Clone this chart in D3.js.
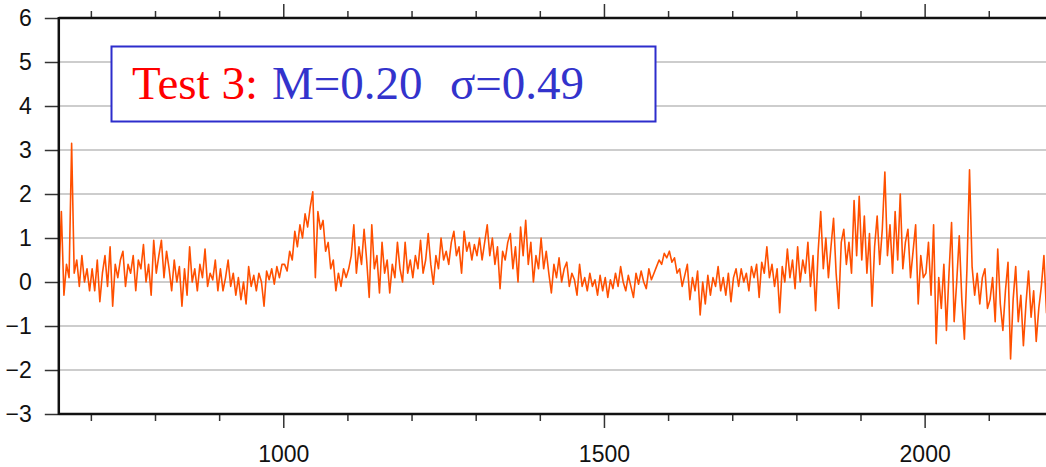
<!DOCTYPE html>
<html>
<head>
<meta charset="utf-8">
<script src="https://cdn.jsdelivr.net/npm/d3@7"></script>
<style>
  body { margin: 0; background: #fff; }
  svg { display: block; }
</style>
</head>
<body>
<svg id="chart" width="1046" height="467"></svg>
<script>
const xStart = 650
const xStep = 4
const values = [
  0.0,1.6,-0.3,0.4,0.1,3.15,0.2,0.5,-0.1,0.6,0.0,0.3,-0.2,
  0.3,-0.2,0.5,-0.45,0.2,0.6,-0.1,0.8,-0.55,0.4,0.1,0.5,0.7,-0.1,0.4,0.2,0.6,-0.2,0.5,0.3,0.85,0.0,0.4,-0.3,0.95,
  0.2,0.6,0.95,0.1,0.7,0.3,-0.2,0.5,0.0,0.35,-0.55,0.3,-0.3,0.8,0.0,0.3,-0.2,0.4,0.1,0.75,-0.1,0.2,0.05,0.5,-0.2,
  0.3,-0.2,0.1,0.5,-0.1,0.2,-0.3,0.1,-0.4,0.0,-0.5,0.35,-0.1,0.15,-0.2,0.2,0.0,-0.55,0.25,0.05,0.3,-0.05,0.35,0.1,0.4,
  0.4,0.25,0.7,0.5,1.15,0.8,1.3,1.0,1.55,1.25,1.7,2.05,0.1,1.6,1.2,1.4,0.7,0.9,0.3,0.5,-0.2,0.2,-0.1,0.3,0.1,
  0.3,0.6,1.3,0.2,0.8,0.4,1.2,0.5,-0.35,1.3,0.3,0.6,-0.25,0.9,0.2,0.5,-0.25,0.4,0.1,0.9,0.3,0.0,0.9,0.2,0.5,
  0.1,0.6,0.3,0.95,0.2,0.5,1.1,0.4,-0.05,0.6,0.3,1.0,0.5,0.7,0.4,0.9,1.15,0.6,0.8,0.2,1.15,0.7,0.9,0.5,0.85,
  0.6,1.0,0.5,0.9,1.3,0.6,1.0,0.4,0.8,-0.15,0.7,0.5,0.9,1.1,0.3,0.8,0.0,1.25,0.6,1.4,0.4,0.9,0.0,0.6,0.3,
  1.0,0.3,0.7,0.2,-0.25,0.4,0.1,0.55,0.0,0.3,0.45,-0.1,0.2,0.05,-0.3,0.4,-0.1,0.1,-0.2,0.2,-0.1,0.05,-0.3,0.15,-0.2,
  0.1,-0.35,0.05,-0.15,0.2,-0.1,0.35,0.0,-0.2,0.15,-0.1,-0.35,0.2,-0.05,0.25,0.0,-0.15,0.3,0.05,0.2,0.35,0.5,0.4,0.65,0.55,
  0.7,0.45,0.55,0.2,0.3,-0.1,0.15,0.4,-0.4,0.1,-0.2,0.25,-0.75,0.0,-0.5,0.15,-0.3,0.1,-0.1,0.35,-0.2,0.1,-0.3,0.2,-0.45,
  0.1,0.3,-0.1,0.3,0.0,0.2,-0.2,0.35,0.1,0.4,-0.35,0.45,0.2,0.8,0.1,0.4,-0.1,0.3,-0.7,0.35,0.0,0.75,0.1,0.5,-0.15,
  0.8,0.0,0.5,0.2,0.9,-0.1,0.6,-0.65,0.7,1.6,0.3,1.0,0.1,0.8,1.45,0.2,-0.6,0.9,1.2,0.4,0.9,0.2,1.85,0.6,1.95,
  0.5,1.5,0.2,1.1,-0.55,0.8,1.5,0.4,1.2,2.5,0.6,1.3,0.2,1.6,0.5,2.0,0.3,0.9,1.2,0.1,0.7,1.3,-0.5,0.6,0.1,
  0.2,0.9,-0.3,1.3,-1.4,0.1,-0.6,0.4,-1.1,0.2,1.35,-0.9,0.0,1.05,-0.4,-1.3,0.3,2.55,0.35,-0.3,0.2,-0.5,0.1,0.3,-0.6,
  -0.4,0.1,-0.9,0.75,-0.5,-1.1,-0.2,0.45,-1.75,-0.4,0.35,-0.9,-0.3,-1.45,-0.5,0.25,-0.8,-0.2,-1.35,-0.6,-0.1,0.6,-0.7,0.4,-0.5
]

const yTicks = [-3, -2, -1, 0, 1, 2, 3, 4, 5, 6]
const xMajor = [1000, 1500, 2000]
const xMinor = [700, 800, 900, 1100, 1200, 1300, 1400, 1600, 1700, 1800, 1900, 2100]
const legendParts = [
  {text: "Test 3:", color: "#ff0000", x: 132},
  {text: "M=0.20", color: "#3333cc", x: 272},
  {text: "σ=0.49", color: "#3333cc", x: 450}
]

const svg = d3.select("#chart")

const x = d3.scaleLinear().domain([650, 2200]).range([58.8, 1052.9])
const y = d3.scaleLinear().domain([-3, 6]).range([414, 18])

const plotLeft = x(650), plotRight = x(2200), plotTop = y(6), plotBottom = y(-3)

// gridlines
svg.append("g")
  .selectAll("line")
  .data(yTicks.filter(d => d > -3 && d < 6))
  .join("line")
    .attr("x1", plotLeft).attr("x2", plotRight)
    .attr("y1", d => y(d)).attr("y2", d => y(d))
    .attr("stroke", "#bdbdbd")
    .attr("stroke-width", 1.5)

// clip for the series
svg.append("clipPath").attr("id", "plot")
  .append("rect")
    .attr("x", plotLeft).attr("y", plotTop)
    .attr("width", plotRight - plotLeft).attr("height", plotBottom - plotTop)

const line = d3.line()
  .x((d, i) => x(xStart + i * xStep))
  .y(d => y(d))

svg.append("path")
  .datum(values)
  .attr("clip-path", "url(#plot)")
  .attr("fill", "none")
  .attr("stroke", "#ff5000")
  .attr("stroke-width", 1.6)
  .attr("stroke-linejoin", "round")
  .attr("d", line)

// axes (ticks only, frame drawn separately)
const fontAxis = "'Liberation Sans', Arial, Helvetica, sans-serif"

const yAxis = svg.append("g")
  .attr("transform", `translate(${plotLeft},0)`)
  .call(d3.axisLeft(y).tickValues(yTicks).tickSize(14).tickPadding(13).tickFormat(d3.format("d")))
yAxis.select(".domain").remove()
yAxis.selectAll(".tick line").attr("stroke", "#333").attr("stroke-width", 1.5)
yAxis.selectAll(".tick text")
  .attr("font-family", fontAxis)
  .attr("font-size", 23)
  .attr("fill", "#111")

const xAxisMajor = svg.append("g")
  .attr("transform", `translate(0,${plotBottom})`)
  .call(d3.axisBottom(x).tickValues(xMajor).tickSize(14).tickFormat(d3.format("d")))
xAxisMajor.select(".domain").remove()
xAxisMajor.selectAll(".tick line").attr("stroke", "#333").attr("stroke-width", 1.5)
xAxisMajor.selectAll(".tick text")
  .attr("y", 48)
  .attr("dy", null)
  .attr("font-family", fontAxis)
  .attr("font-size", 23)
  .attr("fill", "#111")

const xAxisMinor = svg.append("g")
  .attr("transform", `translate(0,${plotBottom})`)
  .call(d3.axisBottom(x).tickValues(xMinor).tickSize(7).tickFormat(""))
xAxisMinor.select(".domain").remove()
xAxisMinor.selectAll(".tick line").attr("stroke", "#333").attr("stroke-width", 1.5)

const topMajor = svg.append("g")
  .attr("transform", `translate(0,${plotTop})`)
  .call(d3.axisTop(x).tickValues(xMajor).tickSize(14).tickFormat(""))
topMajor.select(".domain").remove()
topMajor.selectAll(".tick line").attr("stroke", "#333").attr("stroke-width", 1.5)

const topMinor = svg.append("g")
  .attr("transform", `translate(0,${plotTop})`)
  .call(d3.axisTop(x).tickValues(xMinor).tickSize(7).tickFormat(""))
topMinor.select(".domain").remove()
topMinor.selectAll(".tick line").attr("stroke", "#333").attr("stroke-width", 1.5)

// frame
const frame = svg.append("g").attr("stroke", "#111").attr("stroke-width", 2.5)
frame.append("line").attr("x1", plotLeft).attr("x2", plotLeft).attr("y1", plotTop - 1).attr("y2", plotBottom + 1)
frame.append("line").attr("x1", plotLeft).attr("x2", plotRight).attr("y1", plotTop).attr("y2", plotTop)
frame.append("line").attr("x1", plotLeft).attr("x2", plotRight).attr("y1", plotBottom).attr("y2", plotBottom)

// label box
svg.append("rect")
  .attr("x", 111.5).attr("y", 46.5)
  .attr("width", 544).attr("height", 75)
  .attr("fill", "#fff")
  .attr("stroke", "#2d2dcc")
  .attr("stroke-width", 2)

svg.append("g")
  .selectAll("text")
  .data(legendParts)
  .join("text")
    .attr("x", d => d.x)
    .attr("y", 99)
    .attr("font-family", "'Liberation Serif', 'Times New Roman', Times, serif")
    .attr("font-size", 47)
    .attr("fill", d => d.color)
    .text(d => d.text)
</script>
</body>
</html>
